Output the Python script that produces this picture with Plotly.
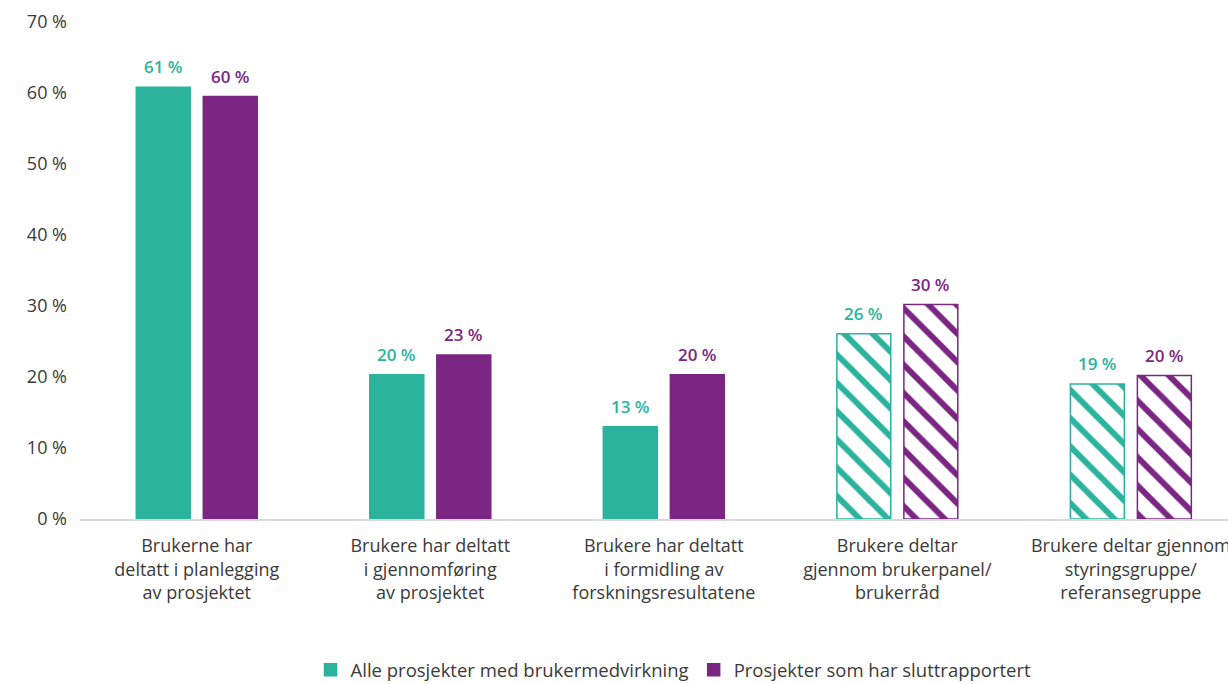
import plotly.graph_objects as go

categories = [
    "Brukerne har<br>deltatt i planlegging<br>av prosjektet",
    "Brukere har deltatt<br>i gjennomføring<br>av prosjektet",
    "Brukere har deltatt<br>i formidling av<br>forskningsresultatene",
    "Brukere deltar<br>gjennom brukerpanel/<br>brukerråd",
    "Brukere deltar gjennom<br>styringsgruppe/<br>referansegruppe",
]
series_names = ["Alle prosjekter med brukermedvirkning", "Prosjekter som har sluttrapportert"]
alle = [60.8, 20.3, 13.0, 26.1, 19.0]
slutt = [59.5, 23.1, 20.3, 30.2, 20.2]
hatched = [False, False, False, True, True]
tick_vals = [0, 10, 20, 30, 40, 50, 60, 70]
tick_text = ["0 %", "10 %", "20 %", "30 %", "40 %", "50 %", "60 %", "70 %"]

TEAL = "#2BB39E"
PURPLE = "#7B2682"
FONT = "Open Sans"
TXT = "#3a3a3a"
BAR_W = 0.231

fig = go.Figure()
for name, vals, color, off in [(series_names[0], alle, TEAL, -0.259), (series_names[1], slutt, PURPLE, 0.028)]:
    for is_h in (False, True):
        xs = [i for i in range(len(categories)) if hatched[i] == is_h]
        ys = [vals[i] for i in xs]
        if is_h:
            marker = dict(
                color="white",
                line=dict(color=color, width=1.5),
                pattern=dict(shape="\\", fgcolor=color, bgcolor="white",
                             size=20, solidity=0.3, fillmode="replace"),
            )
        else:
            marker = dict(color=color, line=dict(color=color, width=1.5))
        fig.add_trace(go.Bar(
            name=name,
            legendgroup=name,
            showlegend=not is_h,
            x=xs,
            y=ys,
            width=BAR_W,
            offset=off,
            marker=marker,
        ))
    # value labels above bars
    for i, v in enumerate(vals):
        fig.add_annotation(
            x=i + off + BAR_W / 2, y=v, xref="x", yref="y",
            text=f"{v:.0f} %", showarrow=False,
            xanchor="center", yanchor="bottom", yshift=7,
            font=dict(color=color, size=17, family=FONT, weight=600),
        )

fig.update_layout(
    width=1228, height=720,
    margin=dict(l=80, r=0, t=22, b=201),
    paper_bgcolor="white", plot_bgcolor="white",
    showlegend=True,
    legend=dict(orientation="h", x=0.517, xanchor="center", y=-0.266, yanchor="top",
                font=dict(size=18.5, family=FONT, color=TXT), traceorder="normal"),
    font=dict(family=FONT, color=TXT),
)
fig.update_xaxes(
    range=[-0.5, 4.416],
    tickvals=list(range(len(categories))),
    ticktext=categories,
    tickfont=dict(size=18, family=FONT, color=TXT),
    showline=True, linecolor="#d9d9d9", linewidth=1.5,
    showgrid=False, ticks="", zeroline=False, automargin=False,
    ticklabelstandoff=10, ticklabeloverflow="allow",
)
fig.update_yaxes(
    range=[0, 70],
    tickvals=tick_vals, ticktext=tick_text,
    tickfont=dict(size=18, family=FONT, color=TXT),
    showgrid=False, zeroline=False, showline=False, ticks="",
    ticklabelstandoff=12, automargin=False,
)
fig.write_html("out.html", config={"displayModeBar": False},
               post_script="document.body.style.margin='0';document.body.style.padding='0';")
